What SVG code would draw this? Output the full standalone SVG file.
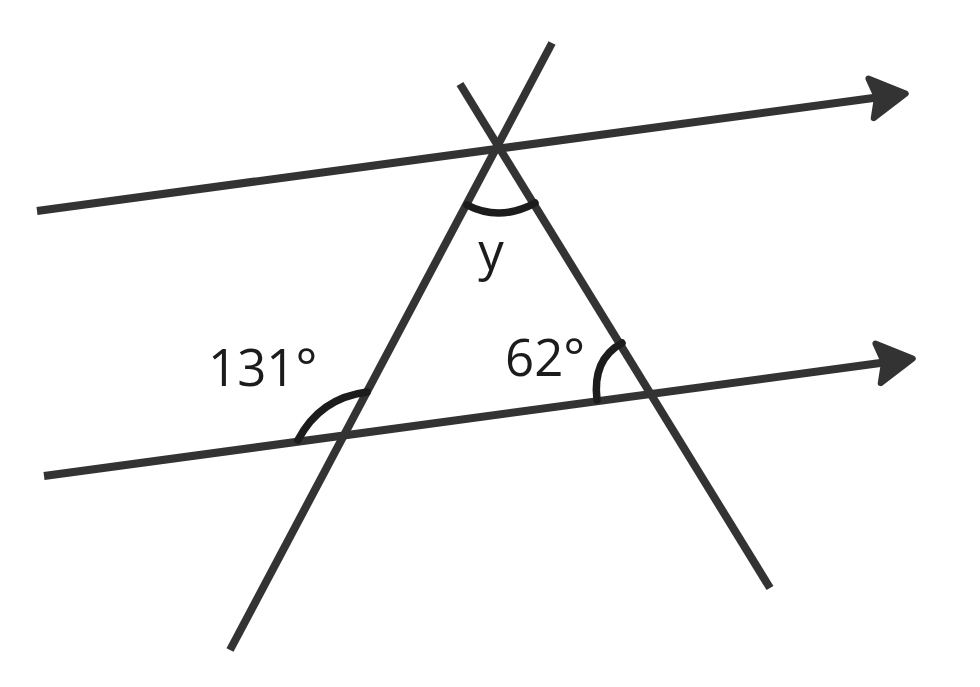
<svg xmlns="http://www.w3.org/2000/svg" width="980" height="687" viewBox="0 0 980 687">
  <style>
    .ln { stroke: #333333; stroke-width: 8; fill: none; stroke-linecap: butt; }
    .arc { stroke: #1c1c1c; stroke-width: 7.5; fill: none; stroke-linecap: round; }
    .lbl { font-family: "Open Sans", "Noto Sans", "DejaVu Sans", sans-serif; font-size: 51px; fill: #1c1c1c; }
  </style>
  <defs>
    <marker id="arrow" markerUnits="userSpaceOnUse" viewBox="-5 -30 50 60" markerWidth="50" markerHeight="60" refX="6" refY="0" orient="auto">
      <path d="M35,0 L0,-20 L6,0 L0,20 Z" fill="#333333" stroke="#333333" stroke-width="6" stroke-linejoin="round"/>
    </marker>
  </defs>
  <rect width="980" height="687" fill="#ffffff"/>
  <g id="connectors">
    <line id="top-parallel" class="ln" x1="37" y1="211" x2="877" y2="97.5" marker-end="url(#arrow)"/>
    <line id="bottom-parallel" class="ln" x1="44" y1="476" x2="884" y2="362.5" marker-end="url(#arrow)"/>
    <line id="transversal-left" class="ln" x1="230" y1="650" x2="552" y2="43"/>
    <line id="transversal-right" class="ln" x1="460" y1="84" x2="770" y2="588"/>
  </g>
  <g id="angle-y">
    <path class="arc" d="M467,205 Q500,222 535,203"/>
    <text class="lbl" x="491" y="270" text-anchor="middle">y</text>
  </g>
  <g id="angle-131">
    <path class="arc" d="M298,440 Q320,398 367,392"/>
    <text class="lbl" x="208" y="386">131°</text>
  </g>
  <g id="angle-62">
    <path class="arc" d="M597,400 C594,375 600,355 622,343"/>
    <text class="lbl" x="505" y="376">62°</text>
  </g>
</svg>
